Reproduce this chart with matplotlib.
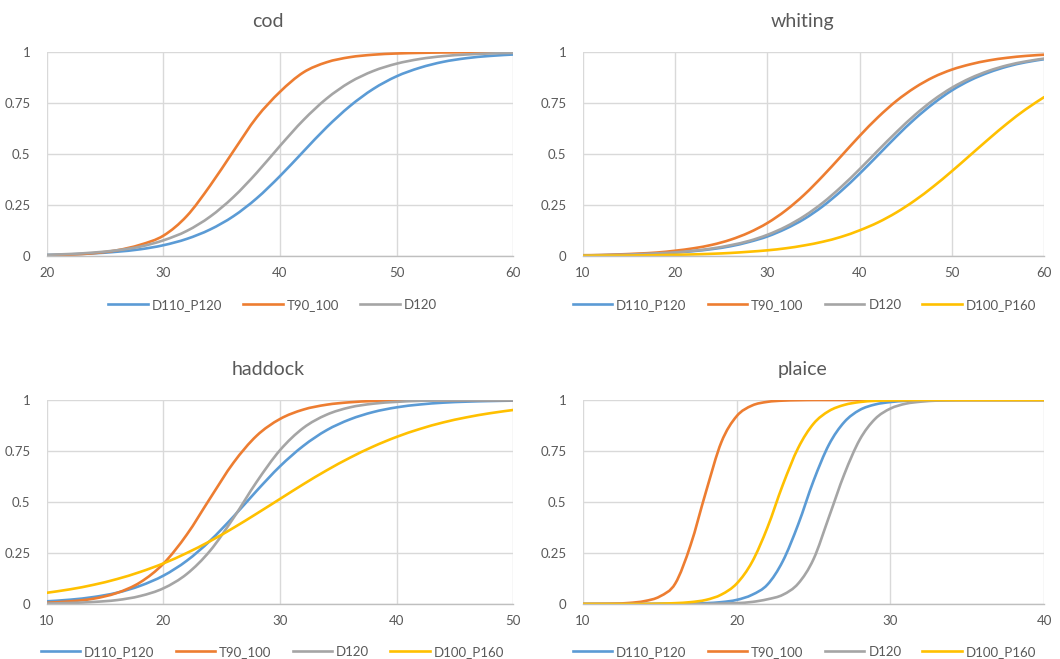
# Curvas de seletividade por espécie (4 painéis estilo Excel)
import matplotlib
matplotlib.use('Agg')
import matplotlib.pyplot as plt
from matplotlib.path import Path
from matplotlib.patches import PathPatch
from matplotlib.lines import Line2D

plt.rcParams['font.family'] = ['Lato', 'DejaVu Sans']

# Nomes das séries e cores
series_names = ['D110_P120', 'T90_100', 'D120', 'D100_P160']
series_colors = ['#5B9BD5', '#ED7D31', '#A5A5A5', '#FFC000']

# cod (comprimento em cm)
cod_len = [20, 22, 24, 26, 28, 30, 32, 34, 36, 38, 40, 42, 44, 46, 48, 50, 52, 54, 56, 58, 60]
cod_d110_p120 = [0.005, 0.008, 0.013, 0.021, 0.033, 0.053, 0.084, 0.130, 0.195, 0.283, 0.392,
                 0.512, 0.631, 0.735, 0.819, 0.881, 0.923, 0.952, 0.970, 0.981, 0.988]
cod_t90_100 = [0.003, 0.007, 0.014, 0.028, 0.055, 0.100, 0.196, 0.345, 0.514, 0.680, 0.805,
               0.900, 0.950, 0.975, 0.987, 0.993, 0.996, 0.998, 0.999, 1.0, 1.0]
cod_d120 = [0.006, 0.010, 0.017, 0.028, 0.046, 0.077, 0.123, 0.193, 0.289, 0.408, 0.540,
            0.666, 0.772, 0.852, 0.907, 0.943, 0.966, 0.980, 0.988, 0.993, 0.996]

# whiting
whi_len = [10, 12, 14, 16, 18, 20, 22, 24, 26, 28, 30, 32, 34, 36, 38, 40, 42, 44, 46, 48,
           50, 52, 54, 56, 58, 60]
whi_d110_p120 = [0.003, 0.004, 0.006, 0.008, 0.011, 0.017, 0.024, 0.034, 0.048, 0.069, 0.096,
                 0.134, 0.182, 0.244, 0.319, 0.404, 0.495, 0.587, 0.673, 0.748, 0.812,
                 0.862, 0.900, 0.929, 0.950, 0.965]
whi_t90_100 = [0.004, 0.005, 0.008, 0.012, 0.017, 0.026, 0.038, 0.055, 0.080, 0.115, 0.162,
               0.224, 0.301, 0.392, 0.490, 0.589, 0.681, 0.761, 0.826, 0.877, 0.914,
               0.940, 0.959, 0.972, 0.981, 0.987]
whi_d120 = [0.003, 0.004, 0.006, 0.009, 0.013, 0.018, 0.026, 0.037, 0.053, 0.074, 0.104,
            0.144, 0.196, 0.261, 0.339, 0.426, 0.518, 0.608, 0.692, 0.765, 0.825,
            0.872, 0.908, 0.935, 0.954, 0.968]
whi_d100_p160 = [0.001, 0.002, 0.002, 0.003, 0.004, 0.006, 0.008, 0.011, 0.015, 0.021, 0.028,
                 0.038, 0.052, 0.070, 0.094, 0.126, 0.165, 0.214, 0.273, 0.341, 0.416,
                 0.495, 0.574, 0.650, 0.719, 0.779]

# haddock
had_len = [10, 12, 14, 16, 18, 20, 22, 24, 26, 28, 30, 32, 34, 36, 38, 40, 42, 44, 46, 48, 50]
had_d110_p120 = [0.013, 0.021, 0.034, 0.055, 0.089, 0.139, 0.212, 0.310, 0.428, 0.555, 0.675,
                 0.775, 0.852, 0.905, 0.941, 0.964, 0.978, 0.987, 0.992, 0.995, 0.997]
had_t90_100 = [0.006, 0.013, 0.026, 0.054, 0.106, 0.198, 0.340, 0.518, 0.692, 0.825, 0.907,
               0.953, 0.977, 0.989, 0.995, 0.997, 0.999, 0.999, 1.0, 1.0, 1.0]
had_d120 = [0.002, 0.005, 0.010, 0.019, 0.039, 0.077, 0.147, 0.261, 0.421, 0.599, 0.754,
            0.863, 0.928, 0.964, 0.982, 0.991, 0.996, 0.998, 0.999, 0.999, 1.0]
had_d100_p160 = [0.055, 0.072, 0.094, 0.122, 0.157, 0.199, 0.250, 0.308, 0.373, 0.443, 0.515,
                 0.587, 0.655, 0.717, 0.772, 0.819, 0.858, 0.890, 0.915, 0.935, 0.951]

# plaice
pla_len = [10, 11, 12, 13, 14, 15, 16, 17, 18, 19, 20, 21, 22, 23, 24, 25, 26, 27, 28, 29,
           30, 31, 32, 33, 34, 35, 36, 37, 38, 39, 40]
pla_d110_p120 = [0.0, 0.0, 0.0, 0.0, 0.0, 0.001, 0.001, 0.002, 0.004, 0.009, 0.020,
                 0.045, 0.095, 0.210, 0.390, 0.604, 0.781, 0.892, 0.951, 0.978, 0.990,
                 0.996, 0.998, 0.999, 1.0, 1.0, 1.0, 1.0, 1.0, 1.0, 1.0]
pla_t90_100 = [0.0, 0.0005, 0.0015, 0.005, 0.014, 0.037, 0.100, 0.289, 0.550, 0.793, 0.921,
               0.973, 0.991, 0.997, 0.999, 1.0, 1.0, 1.0, 1.0, 1.0, 1.0,
               1.0, 1.0, 1.0, 1.0, 1.0, 1.0, 1.0, 1.0, 1.0, 1.0]
pla_d120 = [0.0, 0.0, 0.0, 0.0, 0.0, 0.0, 0.0, 0.0, 0.0, 0.002, 0.004,
            0.010, 0.023, 0.045, 0.100, 0.220, 0.426, 0.636, 0.805, 0.907, 0.958,
            0.982, 0.992, 0.997, 0.999, 1.0, 1.0, 1.0, 1.0, 1.0, 1.0]
pla_d100_p160 = [0.0, 0.0, 0.0, 0.0, 0.0, 0.0016, 0.004, 0.009, 0.020, 0.046, 0.100,
                 0.206, 0.375, 0.584, 0.765, 0.884, 0.946, 0.976, 0.990, 0.996, 0.998,
                 0.999, 1.0, 1.0, 1.0, 1.0, 1.0, 1.0, 1.0, 1.0, 1.0]

y_ticks = [0, 0.25, 0.5, 0.75, 1]
y_tick_labels = ['0', '0.25', '0.5', '0.75', '1']

text_color = '#595959'
grid_color = '#D9D9D9'

fig = plt.figure(figsize=(10.6, 6.59), dpi=100)


def linha_suave(x, y):
    # linha suavizada como no Excel (bezier passando pelos pontos)
    n = len(x)
    verts = [(x[0], y[0])]
    codes = [Path.MOVETO]
    for i in range(n - 1):
        i0 = max(i - 1, 0)
        i3 = min(i + 2, n - 1)
        c1 = (x[i] + (x[i + 1] - x[i0]) / 6.0, y[i] + (y[i + 1] - y[i0]) / 6.0)
        c2 = (x[i + 1] - (x[i3] - x[i]) / 6.0, y[i + 1] - (y[i3] - y[i]) / 6.0)
        verts += [c1, c2, (x[i + 1], y[i + 1])]
        codes += [Path.CURVE4, Path.CURVE4, Path.CURVE4]
    return Path(verts, codes)


def painel(rect, title, title_xy, legend_xy, x, curves, xticks):
    ax = fig.add_axes(rect)
    handles = []
    for y, name, color in curves:
        ax.add_patch(PathPatch(linha_suave(x, y), fill=False, edgecolor=color,
                               lw=1.9, capstyle='round', joinstyle='round'))
        handles.append(Line2D([], [], color=color, lw=1.9, label=name))
    ax.set_xlim(xticks[0], xticks[-1])
    ax.set_ylim(0, 1)
    ax.set_xticks(xticks)
    ax.set_yticks(y_ticks)
    ax.set_yticklabels(y_tick_labels)
    ax.grid(True, color=grid_color, lw=1.0)
    ax.set_axisbelow(True)
    for s in ['top', 'left', 'right']:
        ax.spines[s].set_visible(False)
    ax.spines['bottom'].set_color('#BFBFBF')
    ax.spines['bottom'].set_linewidth(1.0)
    ax.tick_params(length=0, labelsize=9.5, labelcolor=text_color)
    ax.tick_params(axis='y', pad=12)
    ax.tick_params(axis='x', pad=8)
    fig.text(title_xy[0], title_xy[1], title, ha='center', va='center',
             fontsize=14, color=text_color)
    ax.legend(handles=handles, loc='center', bbox_to_anchor=legend_xy,
              bbox_transform=fig.transFigure, ncol=len(curves), frameon=False,
              fontsize=9.5, labelcolor=text_color, handlelength=3.0,
              handletextpad=0.3, columnspacing=1.6)
    return ax


painel([0.0443, 0.6115, 0.4397, 0.3095], 'cod', (0.253, 0.968), (0.257, 0.537),
       cod_len,
       [(cod_d110_p120, series_names[0], series_colors[0]),
        (cod_t90_100, series_names[1], series_colors[1]),
        (cod_d120, series_names[2], series_colors[2])],
       [20, 30, 40, 50, 60])

painel([0.55, 0.6115, 0.435, 0.3095], 'whiting', (0.757, 0.968), (0.759, 0.537),
       whi_len,
       [(whi_d110_p120, series_names[0], series_colors[0]),
        (whi_t90_100, series_names[1], series_colors[1]),
        (whi_d120, series_names[2], series_colors[2]),
        (whi_d100_p160, series_names[3], series_colors[3])],
       [10, 20, 30, 40, 50, 60])

painel([0.0443, 0.0835, 0.4397, 0.3095], 'haddock', (0.253, 0.44), (0.257, 0.011),
       had_len,
       [(had_d110_p120, series_names[0], series_colors[0]),
        (had_t90_100, series_names[1], series_colors[1]),
        (had_d120, series_names[2], series_colors[2]),
        (had_d100_p160, series_names[3], series_colors[3])],
       [10, 20, 30, 40, 50])

painel([0.55, 0.0835, 0.435, 0.3095], 'plaice', (0.757, 0.44), (0.759, 0.011),
       pla_len,
       [(pla_d110_p120, series_names[0], series_colors[0]),
        (pla_t90_100, series_names[1], series_colors[1]),
        (pla_d120, series_names[2], series_colors[2]),
        (pla_d100_p160, series_names[3], series_colors[3])],
       [10, 20, 30, 40])

fig.savefig('out.png', dpi=100)
